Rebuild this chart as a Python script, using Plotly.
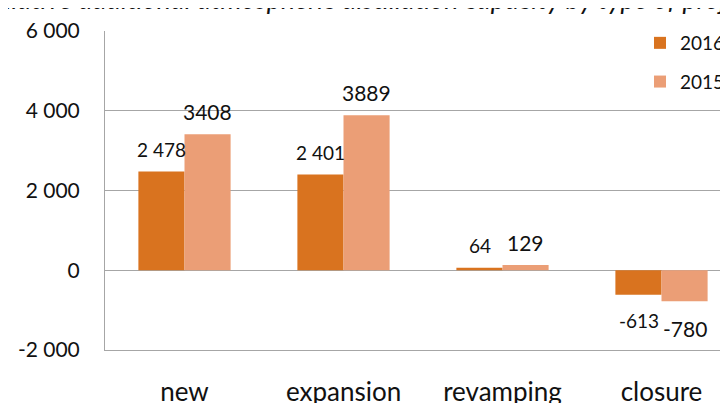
import plotly.graph_objects as go

categories = ["new", "expansion", "revamping", "closure"]
values_2016 = [2478, 2401, 64, -613]
values_2015 = [3408, 3889, 129, -780]
labels_2016 = ["2 478", "2 401", "64", "-613"]
labels_2015 = ["3408", "3889", "129", "-780"]
tick_vals = [-2000, 0, 2000, 4000, 6000]
tick_text = ["-2 000", "0", "2 000", "4 000", "6 000"]

FONT = "Lato, Carlito, Calibri, sans-serif"
TEXT = "#111111"
GRID = "#a6a6a6"

# the page puts the figure 8px in from the top-left, so pixel targets are shifted
OFF = 8
W, H = 728, 403
L = 105 - OFF
T = 31 - OFF
B = H - (350 - OFF)
R = 0
pw = W - L - R
ph = H - T - B
cat_px = 159  # width of one category


def px_x(p):
    return (p - OFF - L) / pw


def px_y(p):
    return 1 + (T - (p - OFF)) / ph


fig = go.Figure()

fig.add_trace(
    go.Bar(
        x=categories,
        y=values_2016,
        name="2016",
        legendgroup="a",
        marker=dict(color="#d9731f", line=dict(width=0)),
    )
)
fig.add_trace(
    go.Bar(
        x=categories,
        y=values_2015,
        name="2015",
        legendgroup="b",
        marker=dict(color="#eb9e76", line=dict(width=0)),
    )
)

annotations = []
half = 23
for cat, v, lab in zip(categories, values_2016, labels_2016):
    annotations.append(dict(
        x=cat, y=v, xref="x", yref="y", text=lab, showarrow=False,
        xshift=-half, yanchor="bottom" if v >= 0 else "top",
        yshift=8.5 if v >= 0 else -12,
        font=dict(family=FONT, size=19, color=TEXT),
    ))
for cat, v, lab in zip(categories, values_2015, labels_2015):
    annotations.append(dict(
        x=cat, y=v, xref="x", yref="y", text=lab, showarrow=False,
        xshift=half, yanchor="bottom" if v >= 0 else "top",
        yshift=8.5 if v >= 0 else -13,
        font=dict(family=FONT, size=21, color=TEXT),
    ))

# title, cut off by the top of the image
annotations.append(dict(
    text="Cumulative additional atmospheric distillation capacity by type of project",
    xref="paper", yref="paper",
    x=px_x(-57), y=px_y(17),
    xanchor="left", yanchor="bottom", showarrow=False,
    font=dict(family=FONT, size=27, color=TEXT, style="italic"),
))

fig.update_layout(
    width=W,
    height=H,
    margin=dict(l=L, r=R, t=T, b=B, autoexpand=False),
    paper_bgcolor="white",
    plot_bgcolor="white",
    barmode="group",
    bargap=0.42,
    bargroupgap=0,
    font=dict(family=FONT, color=TEXT),
    xaxis=dict(
        range=[-0.5, -0.5 + pw / cat_px],
        showgrid=False,
        showline=True,
        linecolor=GRID,
        linewidth=1,
        ticks="",
        tickfont=dict(family=FONT, size=26, color=TEXT),
        ticklabelstandoff=19,
    ),
    yaxis=dict(
        range=[-2000, 6000],
        tickvals=tick_vals,
        ticktext=tick_text,
        showgrid=True,
        gridcolor=GRID,
        gridwidth=1,
        zeroline=False,
        showline=True,
        linecolor=GRID,
        linewidth=1,
        mirror=True,
        ticks="",
        tickfont=dict(family=FONT, size=21, color=TEXT),
        ticklabelstandoff=20,
    ),
    legend=dict(
        x=px_x(640),
        y=px_y(24),
        xanchor="left",
        yanchor="top",
        bgcolor="rgba(0,0,0,0)",
        tracegroupgap=11,
        font=dict(family=FONT, size=19, color=TEXT),
    ),
    annotations=annotations,
)

fig.write_html("out.html")
